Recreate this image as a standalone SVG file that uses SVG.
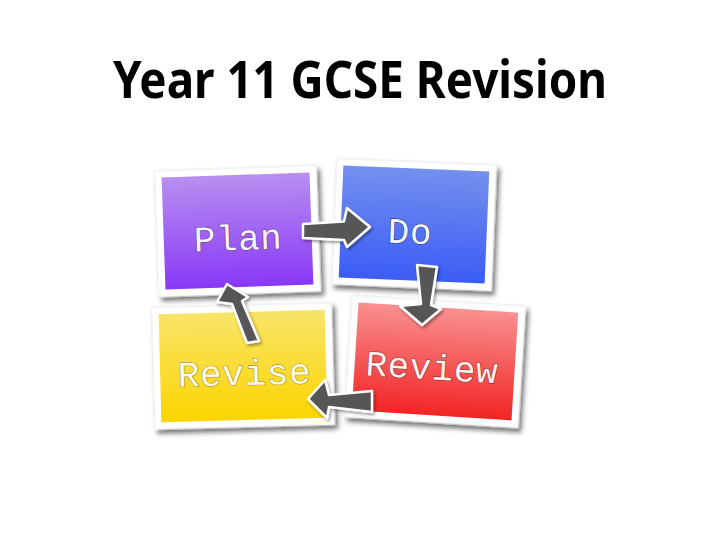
<svg xmlns="http://www.w3.org/2000/svg" width="720" height="540" viewBox="0 0 720 540">
  <defs>
    <style>
      .frame { fill: #ffffff; stroke: #e4e4e4; stroke-width: 0.8; }
      .lbl { font-family: "Liberation Mono", "DejaVu Sans Mono", monospace; font-size: 36px; text-anchor: middle; stroke-width: 1.1; paint-order: stroke; }
      .arrow { fill: #565656; stroke: #ffffff; stroke-width: 2.5; stroke-linejoin: round; }
    </style>
    <filter id="shadow" x="-20%" y="-20%" width="140%" height="140%">
      <feDropShadow dx="3" dy="4" stdDeviation="2.5" flood-color="#000000" flood-opacity="0.55"/>
    </filter>
    <filter id="ashadow" x="-30%" y="-30%" width="160%" height="160%">
      <feDropShadow dx="1.5" dy="2" stdDeviation="1.5" flood-color="#000000" flood-opacity="0.4"/>
    </filter>
    <linearGradient id="gPlan" x1="0" y1="0" x2="0" y2="1">
      <stop offset="0" stop-color="#b88ff0"/>
      <stop offset="1" stop-color="#8838f6"/>
    </linearGradient>
    <linearGradient id="gDo" x1="0" y1="0" x2="0" y2="1">
      <stop offset="0" stop-color="#7490ee"/>
      <stop offset="1" stop-color="#3b5cf6"/>
    </linearGradient>
    <linearGradient id="gRevise" x1="0" y1="0" x2="0" y2="1">
      <stop offset="0" stop-color="#f9e46a"/>
      <stop offset="1" stop-color="#fbd500"/>
    </linearGradient>
    <linearGradient id="gReview" x1="0" y1="0" x2="0" y2="1">
      <stop offset="0" stop-color="#f99090"/>
      <stop offset="1" stop-color="#f22424"/>
    </linearGradient>
  </defs>

  <rect width="720" height="540" fill="#ffffff"/>

  <text x="360" y="98" font-family="'Noto Sans', 'Open Sans', sans-serif" font-weight="bold" font-size="52" text-anchor="middle" textLength="494" lengthAdjust="spacingAndGlyphs" fill="#000000">Year 11 GCSE Revision</text>

  <g id="review" transform="translate(435,361.5) rotate(3.6)">
    <rect class="frame" x="-87" y="-61" width="174" height="122" filter="url(#shadow)"/>
    <rect x="-80" y="-54" width="160" height="108" fill="url(#gReview)"/>
    <text class="lbl" x="-3" y="18" textLength="132" fill="#fff0f0" stroke="#8a2a2a">Review</text>
  </g>

  <g id="revise" transform="translate(243,366) rotate(-1.5)">
    <rect class="frame" x="-90" y="-61" width="180" height="122" filter="url(#shadow)"/>
    <rect x="-83" y="-54" width="166" height="108" fill="url(#gRevise)"/>
    <text class="lbl" x="1" y="19" textLength="133" fill="#fffbe0" stroke="#9a8a40">Revise</text>
  </g>

  <g id="do" transform="translate(414,224.5) rotate(2.4)">
    <rect class="frame" x="-80" y="-63" width="160" height="126" filter="url(#shadow)"/>
    <rect x="-73" y="-56" width="146" height="112" fill="url(#gDo)"/>
    <text class="lbl" x="-4" y="19" textLength="44" fill="#f4f6ff" stroke="#2a3a80">Do</text>
  </g>

  <g id="plan" transform="translate(237.5,231) rotate(-2)">
    <rect class="frame" x="-81" y="-63" width="162" height="126" filter="url(#shadow)"/>
    <rect x="-74" y="-56" width="148" height="112" fill="url(#gPlan)"/>
    <text class="lbl" x="0" y="19" textLength="88" fill="#f8f2ff" stroke="#5a3a80">Plan</text>
  </g>

  <g id="connectors" filter="url(#ashadow)">
    <path class="arrow" d="M303,224 L344,221.5 L347,208 L370,227 L347,247 L344,240 L303,238 Z"/>
    <path class="arrow" d="M417,265 L437,267 L431,305 L441,309 L422,325 L400,306 L421,304 Z"/>
    <path class="arrow" d="M372,391 L372,412 L329,407 L327,418 L308,399 L325,380 L329,395 Z"/>
    <path class="arrow" d="M247,343 L232,304 L217,302 L227,284 L248,297 L242,301 L259,341 Z"/>
  </g>
</svg>
